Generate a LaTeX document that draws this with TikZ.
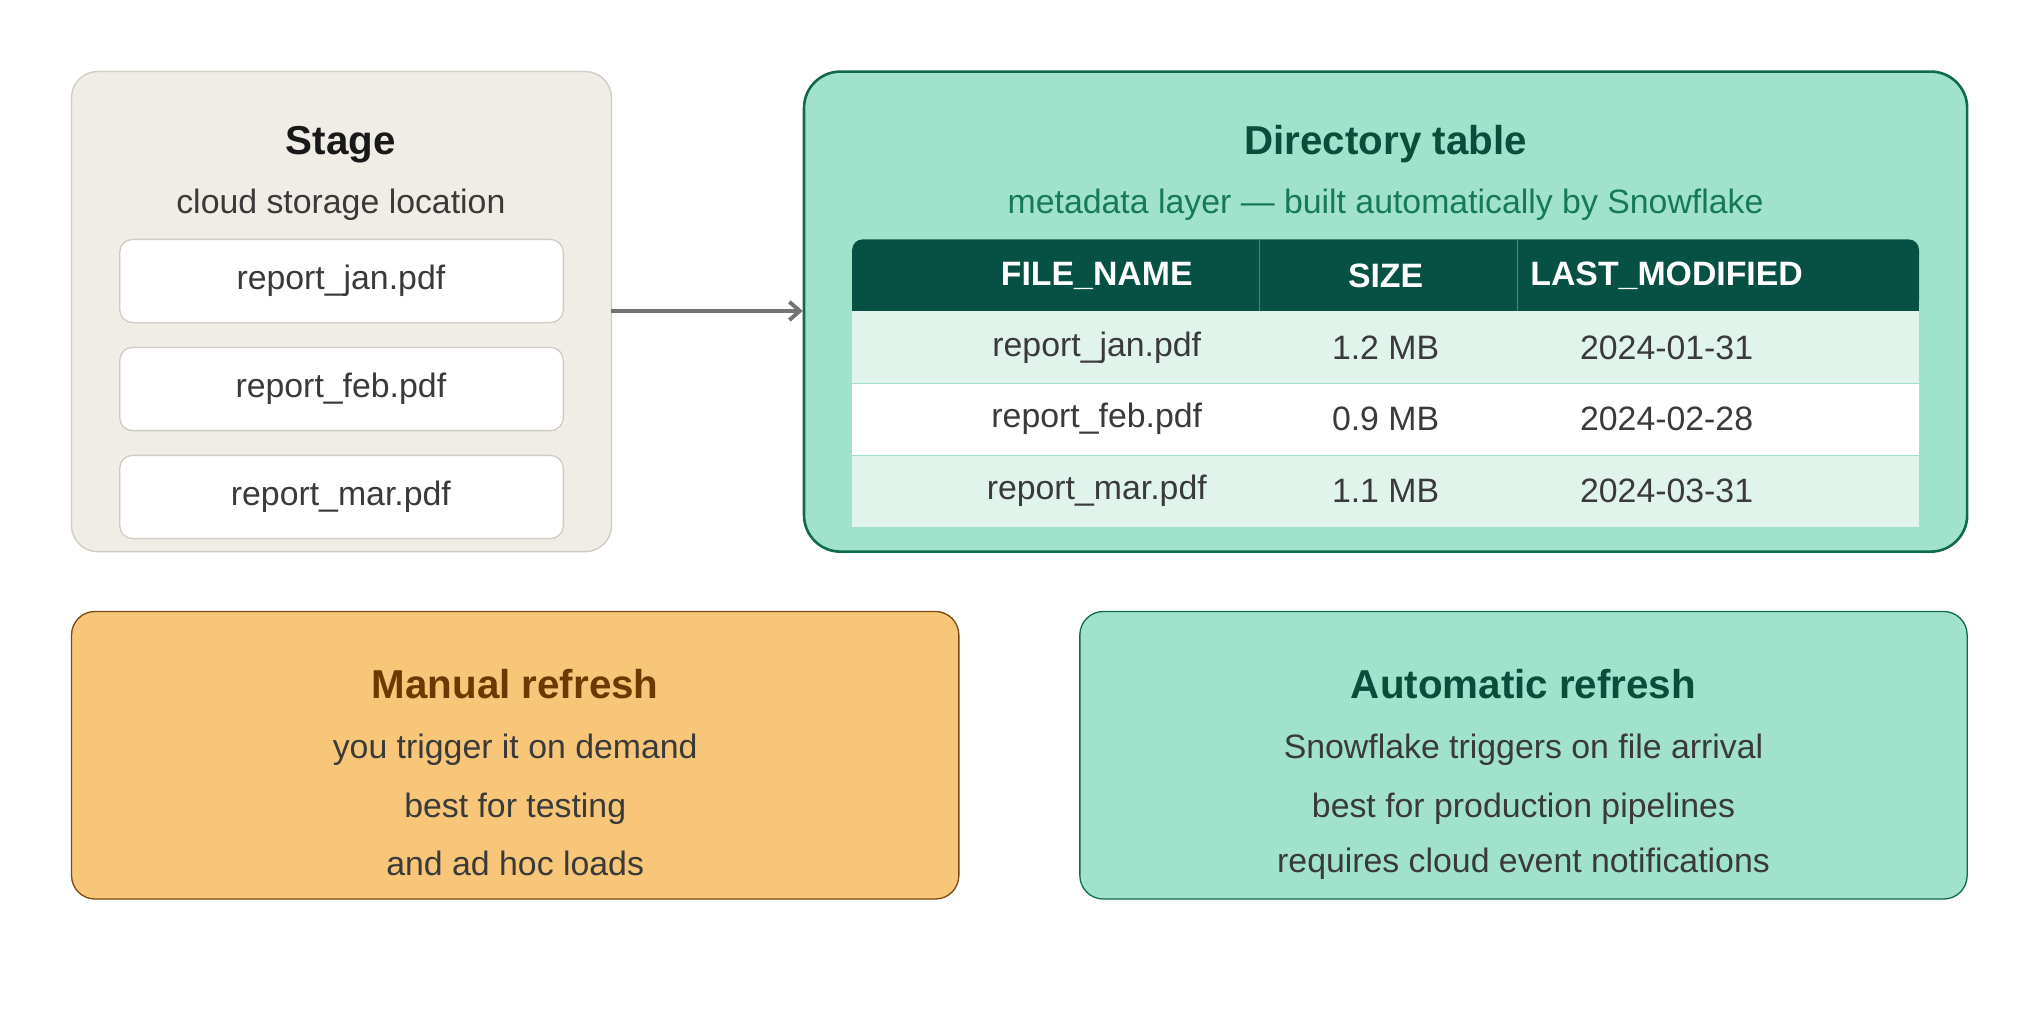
\documentclass[tikz,border=0pt]{standalone}
\usepackage{fontspec}
\setmainfont{Liberation Sans}
\usetikzlibrary{arrows.meta}
\definecolor{stagebg}{HTML}{F0EDE6}
\definecolor{stageln}{HTML}{D0CCC4}
\definecolor{mint}{HTML}{A0E2CC}
\definecolor{dgreen}{HTML}{0E6B4E}
\definecolor{hdr}{HTML}{065143}
\definecolor{ttl}{HTML}{0B4D3A}
\definecolor{sub}{HTML}{167A5A}
\definecolor{rowl}{HTML}{E0F4EC}
\definecolor{txt}{HTML}{3A3A3A}
\definecolor{orng}{HTML}{F8C678}
\definecolor{orln}{HTML}{7A4A10}
\definecolor{ortt}{HTML}{6B3A00}
\begin{document}
\begin{tikzpicture}[x=1pt,y=-1pt,
  body/.style={font=\fontsize{26}{30}\selectfont,text=txt},
  ttlf/.style={font=\fontsize{31}{36}\selectfont\bfseries},
  file/.style={draw=stageln,fill=white,rounded corners=10pt,line width=1pt},
  hd/.style={font=\fontsize{26}{30}\selectfont\bfseries,text=white}]
\useasboundingbox (0,0) rectangle (1568,784);
\fill[white] (0,0) rectangle (1568,784);
% stage
\draw[fill=stagebg,draw=stageln,rounded corners=20pt,line width=1pt] (55,55) rectangle (470,424);
\node[ttlf,text=black!90] (st) at (262,111) {Stage};
\node[body] (sts) at (262,157) {cloud storage location};
\draw[file] (92,184) rectangle (433,248);
\node[body] (f1) at (262,216) {report\_jan.pdf};
\draw[file] (92,267) rectangle (433,331);
\node[body] (f2) at (262,299) {report\_feb.pdf};
\draw[file] (92,350) rectangle (433,414);
\node[body] (f3) at (262,382) {report\_mar.pdf};
\coordinate (a1) at (470,239);
\coordinate (a2) at (617,239);
\draw[gray!90!black,line width=3pt,-{Straight Barb[length=8pt,width=14pt]}] (a1) -- (a2);
% directory
\draw[fill=mint,draw=dgreen,rounded corners=28pt,line width=2pt] (618,55) rectangle (1512,424);
\node[ttlf,text=ttl] (dt) at (1065,111) {Directory table};
\node[font=\fontsize{26}{30}\selectfont,text=sub] (dts) at (1065,157) {metadata layer — built automatically by Snowflake};
\fill[hdr,rounded corners=8pt] (655,184) rectangle (1475,239);
\fill[hdr] (655,220) rectangle (1475,239);
\draw[dgreen!70!mint,line width=0.6pt] (968,184) -- (968,239) (1166,184) -- (1166,239);
\node[hd] (h1) at (843,212) {FILE\_NAME};
\node[hd] (h2) at (1065,212) {SIZE};
\node[hd] (h3) at (1281,212) {LAST\_MODIFIED};
\fill[rowl] (655,239) rectangle (1475,295);
\fill[white] (655,295) rectangle (1475,350);
\fill[rowl] (655,350) rectangle (1475,405);
\draw[mint,line width=1pt] (655,295) -- (1475,295) (655,350) -- (1475,350);
\node[body] (r1a) at (843,267) {report\_jan.pdf};
\node[body] (r1b) at (1065,267) {1.2 MB};
\node[body] (r1c) at (1281,267) {2024-01-31};
\node[body] (r2a) at (843,322) {report\_feb.pdf};
\node[body] (r2b) at (1065,322) {0.9 MB};
\node[body] (r2c) at (1281,322) {2024-02-28};
\node[body] (r3a) at (843,377) {report\_mar.pdf};
\node[body] (r3b) at (1065,377) {1.1 MB};
\node[body] (r3c) at (1281,377) {2024-03-31};
% manual
\draw[fill=orng,draw=orln,rounded corners=18pt,line width=1pt] (55,470) rectangle (737,691);
\node[ttlf,text=ortt] (mt) at (396,526) {Manual refresh};
\node[body] (m1) at (396,576) {you trigger it on demand};
\node[body] (m2) at (396,622) {best for testing};
\node[body] (m3) at (396,664) {and ad hoc loads};
% automatic
\draw[fill=mint,draw=dgreen,rounded corners=18pt,line width=1pt] (830,470) rectangle (1512,691);
\node[ttlf,text=ttl] (at) at (1171,526) {Automatic refresh};
\node[body] (au1) at (1171,576) {Snowflake triggers on file arrival};
\node[body] (au2) at (1171,622) {best for production pipelines};
\node[body] (au3) at (1171,664) {requires cloud event notifications};
\end{tikzpicture}
\end{document}
